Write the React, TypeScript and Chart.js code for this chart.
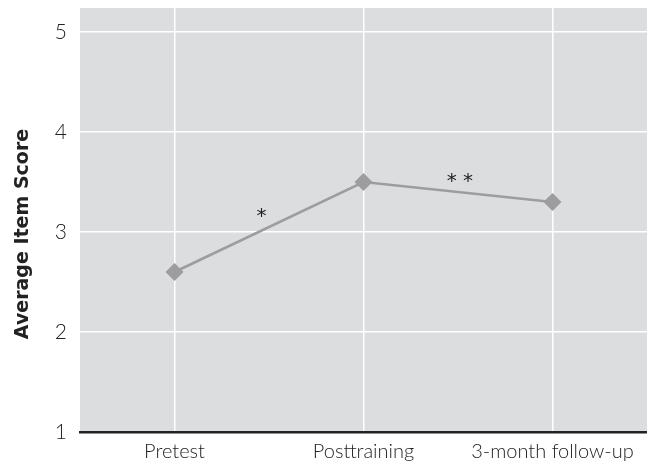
import React, { useEffect, useRef } from "react";
import { Chart, registerables } from "chart.js";

Chart.register(...registerables);

const categories = ["Pretest", "Posttraining", "3-month follow-up"];
const scores = [2.6, 3.5, 3.3];
const yTicks = [1, 2, 3, 4, 5];
const yTitle = "Average Item Score";
const noteLabels = ["*", "* *"];
const noteX = [0.46, 1.51];
const noteY = [3.15, 3.5];

const bgPlugin = {
  id: "plotBg",
  beforeDraw(chart: any) {
    const { ctx, chartArea } = chart;
    ctx.save();
    ctx.fillStyle = "#dcdddf";
    ctx.fillRect(chartArea.left, chartArea.top, chartArea.right - chartArea.left, chartArea.bottom - chartArea.top);
    ctx.restore();
  },
};

const notePlugin = {
  id: "notes",
  afterDatasetsDraw(chart: any) {
    const { ctx, scales, chartArea } = chart;
    const x0 = scales.x.getPixelForValue(0);
    const x1 = scales.x.getPixelForValue(1);
    ctx.save();
    ctx.fillStyle = "#222";
    ctx.font = "20px 'DejaVu Sans'";
    ctx.textAlign = "center";
    ctx.textBaseline = "middle";
    noteLabels.forEach((t, i) => {
      const px = x0 + (x1 - x0) * noteX[i];
      const py = scales.y.getPixelForValue(noteY[i]);
      ctx.fillText(t, px, py);
    });
    // y axis title
    ctx.translate(23, (chartArea.top + chartArea.bottom) / 2 + 14);
    ctx.rotate(-Math.PI / 2);
    ctx.font = "bold 19px 'DejaVu Sans'";
    ctx.fillText(yTitle, 0, 0);
    ctx.restore();
  },
};

export default function App() {
  const ref = useRef<HTMLCanvasElement>(null);
  useEffect(() => {
    if (!ref.current) return;
    const chart = new Chart(ref.current, {
      type: "line",
      data: {
        labels: categories,
        datasets: [
          {
            data: scores,
            borderColor: "#9d9d9f",
            backgroundColor: "#9d9d9f",
            borderWidth: 2.5,
            pointStyle: "rectRot",
            pointRadius: 9,
            pointHoverRadius: 9,
            pointBorderWidth: 0,
            tension: 0,
            clip: false,
          },
        ],
      },
      options: {
        animation: false,
        responsive: false,
        layout: { autoPadding: false, padding: { top: 8, right: 0, left: 0, bottom: 0 } },
        plugins: { legend: { display: false }, tooltip: { enabled: false } },
        scales: {
          x: {
            offset: true,
            grid: { color: "#ffffff", lineWidth: 1.5, drawTicks: false, offset: false },
            border: { display: true, color: "#222222", width: 2.5 },
            ticks: { color: "#222", font: { family: "Lato", size: 20, weight: 300 }, padding: 8, maxRotation: 0, autoSkip: false },
            afterFit: (s: any) => {
              s.height = 33;
              s.paddingLeft = 0;
              s.paddingRight = 0;
            },
          },
          y: {
            min: 1,
            max: 5.24,
            grid: { color: "#ffffff", lineWidth: 1.5, drawTicks: false },
            border: { display: false },
            afterBuildTicks: (s: any) => { s.ticks = yTicks.map((v) => ({ value: v })); },
            ticks: { color: "#222", font: { family: "Lato", size: 21, weight: 300 }, padding: 13 },
            afterFit: (s: any) => {
              s.width = 80;
              s.paddingTop = 0;
              s.paddingBottom = 0;
            },
          },
        },
      },
      plugins: [bgPlugin, notePlugin],
    });
    return () => chart.destroy();
  }, []);
  return (
    <div style={{ position: "fixed", left: 0, top: 0, width: 647, height: 465, background: "#fff" }}>
      <canvas ref={ref} width={647} height={465} style={{ display: "block" }} />
    </div>
  );
}
